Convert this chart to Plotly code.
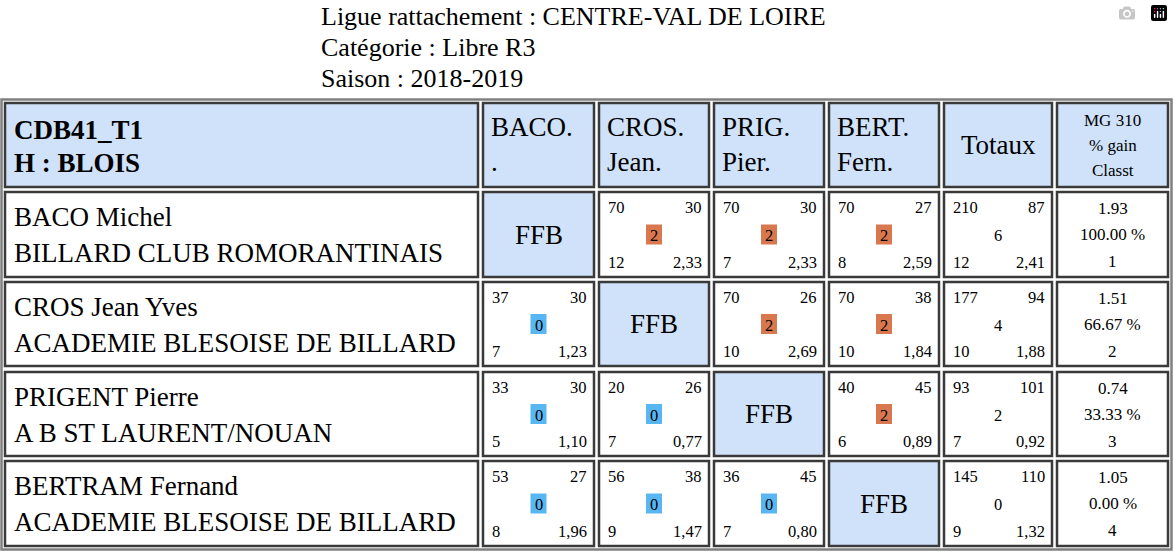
import plotly.graph_objects as go

title_lines = ["Ligue rattachement : CENTRE-VAL DE LOIRE", "Catégorie : Libre R3", "Saison : 2018-2019"]
head_left = ["CDB41_T1", "H : BLOIS"]
col_heads = [["BACO.", "."], ["CROS.", "Jean."], ["PRIG.", "Pier."], ["BERT.", "Fern."]]
players = ["BACO Michel", "CROS Jean Yves", "PRIGENT Pierre", "BERTRAM Fernand"]
clubs = ["BILLARD CLUB ROMORANTINAIS", "ACADEMIE BLESOISE DE BILLARD",
         "A B ST LAURENT/NOUAN", "ACADEMIE BLESOISE DE BILLARD"]

# per match: points made, innings, match points, best run, average
matches = [
    [None, (70, 30, 2, 12, "2,33"), (70, 30, 2, 7, "2,33"), (70, 27, 2, 8, "2,59")],
    [(37, 30, 0, 7, "1,23"), None, (70, 26, 2, 10, "2,69"), (70, 38, 2, 10, "1,84")],
    [(33, 30, 0, 5, "1,10"), (20, 26, 0, 7, "0,77"), None, (40, 45, 2, 6, "0,89")],
    [(53, 27, 0, 8, "1,96"), (56, 38, 0, 9, "1,47"), (36, 45, 0, 7, "0,80"), None],
]
totals = [(210, 87, 6, 12, "2,41"), (177, 94, 4, 10, "1,88"),
          (93, 101, 2, 7, "0,92"), (145, 110, 0, 9, "1,32")]
mg = ["1.93", "1.51", "0.74", "1.05"]
pct = ["100.00 %", "66.67 %", "33.33 %", "0.00 %"]
rank = [1, 2, 3, 4]

# table geometry (pixels)
xs = [5, 483, 599, 714, 829, 944, 1057]
xe = [478, 594, 709, 824, 939, 1052, 1168]
ys = [103, 192, 282, 372, 461]
ye = [187, 277, 366, 456, 546]

HEAD = "#cfe2f9"
ORANGE = "#d9774f"
BLUE = "#58b6f2"
FONT = "Liberation Serif, Times New Roman, serif"
BIG, TITLE, SMALL, MID = 27, 26, 16.5, 17

shapes, ann = [], []

def txt(x, y, t, size, anchor="left", bold=False):
    ann.append(dict(x=x, y=y, text=f"<b>{t}</b>" if bold else str(t), showarrow=False,
                    xanchor=anchor, yanchor="middle",
                    font=dict(family=FONT, size=size, color="black")))

def cell(c, r, fill):
    shapes.append(dict(type="rect", x0=xs[c], x1=xe[c], y0=ys[r], y1=ye[r],
                       fillcolor=fill, line=dict(color="#3a3a3a", width=2.5)))

# outer frame
shapes.append(dict(type="rect", x0=1.5, x1=1171.5, y0=99.5, y1=549.5,
                   fillcolor="white", line=dict(color="#808080", width=2.5)))

for i, t in enumerate(title_lines):
    txt(319, 16 + i * 31, t, TITLE)

# header row
for c in range(7):
    cell(c, 0, HEAD)
txt(12, 130, head_left[0], BIG, bold=True)
txt(12, 163, head_left[1], BIG, bold=True)
for j, h in enumerate(col_heads):
    txt(xs[j + 1] + 6, 127, h[0], BIG)
    txt(xs[j + 1] + 6, 162, h[1], BIG)
txt((xs[5] + xe[5]) / 2, 145, "Totaux", BIG, "center")
for k, t in enumerate(["MG 310", "% gain", "Classt"]):
    txt((xs[6] + xe[6]) / 2, 120 + k * 25, t, MID, "center")

def score_block(c, r, v, badge):
    x0, x1, y0, y1 = xs[c], xe[c], ys[r], ye[r]
    cx, cy = (x0 + x1) / 2, (y0 + y1) / 2
    txt(x0 + 7, y0 + 15, v[0], SMALL)
    txt(x1 - 5, y0 + 15, v[1], SMALL, "right")
    if badge:
        shapes.append(dict(type="rect", x0=cx - 8, x1=cx + 8, y0=cy - 10, y1=cy + 10,
                           fillcolor=ORANGE if v[2] > 0 else BLUE, line=dict(width=0)))
    txt(cx, cy + 1, v[2], SMALL, "center")
    txt(x0 + 7, y1 - 15, v[3], SMALL)
    txt(x1 - 5, y1 - 15, v[4], SMALL, "right")

for i in range(4):
    r = i + 1
    cell(0, r, "white")
    txt(12, ys[r] + 25, players[i], BIG)
    txt(12, ys[r] + 61, clubs[i], BIG)
    for j in range(4):
        m = matches[i][j]
        if m is None:
            cell(j + 1, r, HEAD)
            txt((xs[j + 1] + xe[j + 1]) / 2, (ys[r] + ye[r]) / 2, "FFB", BIG, "center")
        else:
            cell(j + 1, r, "white")
            score_block(j + 1, r, m, True)
    cell(5, r, "white")
    score_block(5, r, totals[i], False)
    cell(6, r, "white")
    cx = (xs[6] + xe[6]) / 2
    txt(cx, ys[r] + 16, mg[i], MID, "center")
    txt(cx, ys[r] + 42, pct[i], MID, "center")
    txt(cx, ys[r] + 69, rank[i], MID, "center")

fig = go.Figure()
fig.update_layout(width=1173, height=553, margin=dict(l=0, r=0, t=0, b=0),
                  paper_bgcolor="white", plot_bgcolor="white",
                  shapes=shapes, annotations=ann, showlegend=False)
fig.update_xaxes(range=[0, 1173], visible=False, fixedrange=True)
fig.update_yaxes(range=[553, 0], visible=False, fixedrange=True)
fig.write_html("out.html", post_script="document.body.style.margin='0';")
